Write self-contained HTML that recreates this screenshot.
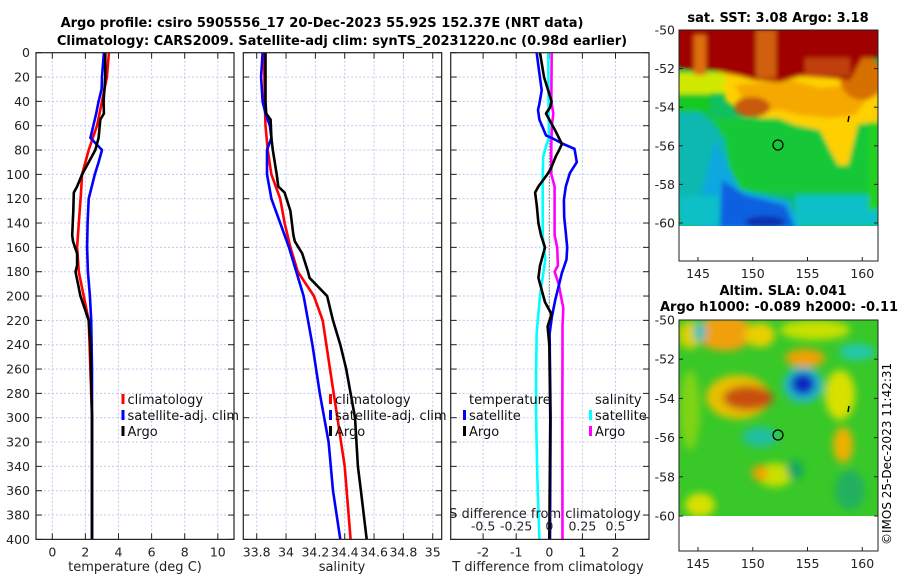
<!DOCTYPE html>
<html><head><meta charset="utf-8"><style>
html,body{margin:0;padding:0;background:#fff;}
svg{display:block;font-family:"DejaVu Sans","Liberation Sans",sans-serif;}
</style></head><body>
<svg id="chart" width="900" height="580" viewBox="0 0 900 580" xmlns="http://www.w3.org/2000/svg">
<defs>
<filter id="b1" x="-20%" y="-20%" width="140%" height="140%"><feGaussianBlur stdDeviation="2.5"/></filter>
<filter id="b2" x="-20%" y="-20%" width="140%" height="140%"><feGaussianBlur stdDeviation="4"/></filter>
<clipPath id="c1"><rect x="679" y="30" width="199" height="196"/></clipPath>
<clipPath id="c2"><rect x="679" y="320" width="199" height="196"/></clipPath>
</defs>
<text x="322" y="27" font-size="13" font-weight="bold" text-anchor="middle">Argo profile: csiro 5905556_17 20-Dec-2023 55.92S 152.37E (NRT data)</text>
<text x="342" y="45" font-size="13" font-weight="bold" text-anchor="middle">Climatology: CARS2009. Satellite-adj clim: synTS_20231220.nc (0.98d earlier)</text>
<g id="panels"></g>

<!-- SST map -->
<g>
<text x="778" y="22" font-size="13" font-weight="bold" text-anchor="middle">sat. SST: 3.08 Argo: 3.18</text>
<g clip-path="url(#c1)">
<rect x="679" y="30" width="199" height="196" fill="#10c060"/>
<g filter="url(#b1)">
<rect x="700" y="118" width="180" height="75" fill="#18c838"/>
<path d="M670 110 L700 112 L715 125 L725 140 L730 175 L745 195 L700 200 L670 200 Z" fill="#10b8b0"/>
<path d="M715 140 L725 160 L740 190 L790 200 L800 230 L700 230 L700 200 Z" fill="#10a8e0"/>
<path d="M722 180 L745 195 L785 205 L795 228 L720 228 Z" fill="#1060e0"/>
<ellipse cx="765" cy="222" rx="20" ry="6" fill="#0830b0"/>
<rect x="679" y="196" width="40" height="30" fill="#10c0c8"/>
<rect x="795" y="195" width="85" height="31" fill="#10c0c8"/>
<rect x="670" y="92" width="40" height="20" fill="#18c820"/>
<rect x="670" y="72" width="60" height="22" fill="#d0e800"/>
<path d="M725 70 L880 70 L880 122 L858 124 L848 165 L838 165 L830 150 L820 130 L795 125 L778 118 L760 118 L740 112 L725 100 Z" fill="#ffd000"/>
<path d="M735 85 L790 80 L820 88 L850 85 L870 95 L855 115 L830 118 L800 115 L780 110 L760 112 L745 105 Z" fill="#f5a800"/>
<ellipse cx="752" cy="107" rx="18" ry="10" fill="#c85a10"/>
<ellipse cx="862" cy="78" rx="22" ry="22" fill="#d87000"/>
<path d="M670 25 L885 25 L885 58 L862 58 L850 80 L830 78 L800 76 L780 82 L755 80 L740 76 L710 70 L690 70 L670 66 Z" fill="#a00000"/>
<rect x="694" y="35" width="12" height="40" fill="#e07010"/>
<rect x="756" y="30" width="20" height="48" fill="#d06010"/>
<rect x="805" y="58" width="45" height="18" fill="#c04008"/>
<rect x="868" y="122" width="12" height="88" fill="#20d020"/>
</g>
</g>
<circle cx="778" cy="145" r="5" fill="none" stroke="#000" stroke-width="1.2"/>
<line x1="849" y1="116" x2="848" y2="122" stroke="#000" stroke-width="1.5"/>
<rect x="679" y="30" width="199" height="231" fill="none" stroke="#222" stroke-width="1"/>
<g id="sstticks"></g>
</g>

<!-- SLA map -->
<g>
<text x="783" y="295" font-size="13" font-weight="bold" text-anchor="middle">Altim. SLA: 0.041</text>
<text x="660" y="311" font-size="13" font-weight="bold">Argo h1000: -0.089 h2000: -0.11</text>
<g clip-path="url(#c2)">
<rect x="679" y="320" width="199" height="196" fill="#38c828"/>
<g filter="url(#b2)">
<ellipse cx="725" cy="333" rx="28" ry="18" fill="#f0a010"/>
<ellipse cx="690" cy="335" rx="12" ry="14" fill="#d8d000"/>
<ellipse cx="700" cy="332" rx="6" ry="10" fill="#20c0c0"/>
<ellipse cx="760" cy="335" rx="15" ry="12" fill="#e8d000"/>
<ellipse cx="815" cy="330" rx="35" ry="10" fill="#c8e000"/>
<ellipse cx="805" cy="358" rx="20" ry="9" fill="#f0a000"/>
<ellipse cx="857" cy="352" rx="18" ry="8" fill="#20c8b0"/>
<ellipse cx="738" cy="397" rx="32" ry="22" fill="#e8c000"/>
<ellipse cx="748" cy="398" rx="25" ry="12" fill="#c85010"/>
<ellipse cx="803" cy="385" rx="20" ry="18" fill="#20b8c8"/>
<ellipse cx="803" cy="384" rx="12" ry="11" fill="#0828c0"/>
<ellipse cx="840" cy="395" rx="15" ry="25" fill="#d8e000"/>
<ellipse cx="760" cy="437" rx="18" ry="10" fill="#20c0a0"/>
<ellipse cx="843" cy="445" rx="10" ry="18" fill="#f0b000"/>
<ellipse cx="775" cy="475" rx="18" ry="12" fill="#c8e000"/>
<ellipse cx="760" cy="473" rx="8" ry="8" fill="#f0a000"/>
<ellipse cx="700" cy="505" rx="15" ry="12" fill="#d8e000"/>
<ellipse cx="850" cy="490" rx="15" ry="20" fill="#20b060"/>
<ellipse cx="795" cy="470" rx="8" ry="10" fill="#10a860"/>
<ellipse cx="690" cy="410" rx="10" ry="40" fill="#c8e000" opacity="0.5"/>
</g>
</g>
<circle cx="778" cy="435" r="5" fill="none" stroke="#000" stroke-width="1.2"/>
<line x1="849" y1="406" x2="848" y2="412" stroke="#000" stroke-width="1.5"/>
<rect x="679" y="320" width="199" height="231" fill="none" stroke="#222" stroke-width="1"/>
<g id="slaticks"></g>
</g>
<text transform="translate(891,545) rotate(-90)" font-size="12">©IMOS 25-Dec-2023 11:42:31</text>
</svg>
<script>
// ---- data: depths (m) and values ----
const depthTicks = [0,20,40,60,80,100,120,140,160,180,200,220,240,260,280,300,320,340,360,380,400];
const tempTicks = [0,2,4,6,8,10];
const salTicks = [33.8,34,34.2,34.4,34.6,34.8,35];
const salTickLabels = ["33.8","34","34.2","34.4","34.6","34.8","35"];
const dtTicks = [-2,-1,0,1,2];
const dsTicks = [-0.5,-0.25,0,0.25,0.5];
const dsTickLabels = ["-0.5","-0.25","0","0.25","0.5"];
const lonTicks = [145,150,155,160];
const latTicks = [-50,-52,-54,-56,-58,-60];

const tClimDepth = [0,20,40,60,80,100,120,140,160,180,200,220,260,300,400];
const tClimVal   = [3.42,3.3,3.0,2.7,2.2,1.8,1.71,1.6,1.5,1.6,1.9,2.2,2.3,2.4,2.4];
const tSatDepth = [0,20,30,40,50,70,80,90,100,120,140,160,180,200,220,260,400];
const tSatVal   = [3.12,3.0,2.98,2.8,2.65,2.3,3.0,2.8,2.57,2.2,2.13,2.1,2.15,2.27,2.35,2.4,2.4];
const tArgoDepth = [0,20,40,50,55,70,80,90,100,110,115,130,150,155,165,175,180,190,200,210,220,240,300,400];
const tArgoVal   = [3.2,3.2,3.1,3.12,2.9,2.8,2.6,2.2,1.8,1.5,1.3,1.27,1.2,1.25,1.5,1.5,1.4,1.55,1.7,1.95,2.2,2.3,2.4,2.4];

const sClimDepth = [0,40,60,80,100,120,140,160,180,200,220,260,300,340,400];
const sClimVal   = [33.85,33.855,33.86,33.875,33.9,33.96,33.99,34.03,34.08,34.19,34.25,34.3,34.35,34.4,34.44];
const sSatDepth = [0,20,40,50,60,70,80,100,120,140,160,180,200,240,280,320,360,400];
const sSatVal   = [33.84,33.83,33.84,33.86,33.89,33.9,33.87,33.87,33.9,33.96,34.02,34.07,34.12,34.18,34.23,34.29,34.32,34.37];
const sArgoDepth = [0,40,50,55,70,80,100,110,115,130,150,155,165,180,185,200,220,240,260,280,300,340,360,380,400];
const sArgoVal   = [33.86,33.86,33.865,33.895,33.9,33.91,33.936,33.947,33.99,34.03,34.05,34.06,34.11,34.15,34.16,34.28,34.32,34.37,34.41,34.44,34.47,34.49,34.51,34.53,34.55];

const dtSatDepth = [0,11,31,42,47,55,68,70,75,79,90,99,110,121,135,148,160,170,181,192,203,217,231,300,400];
const dtSatVal   = [-0.38,-0.33,-0.23,-0.3,-0.34,-0.3,-0.1,0.07,0.42,0.76,0.83,0.62,0.5,0.44,0.45,0.5,0.54,0.52,0.38,0.28,0.18,0.08,0.01,0.04,0.02];
const dtArgoDepth = [0,20,40,45,50,55,65,75,80,85,95,100,110,115,125,140,150,160,175,185,195,205,215,225,240,300,400];
const dtArgoVal   = [-0.28,-0.16,0.07,0.02,-0.1,0.0,0.2,0.38,0.3,0.2,0.05,-0.06,-0.33,-0.43,-0.38,-0.33,-0.25,-0.13,-0.28,-0.33,-0.23,-0.13,0.07,-0.05,0.0,0.03,0.0];
const dsSatDepth = [0,40,70,75,85,100,150,170,200,230,260,300,350,400];
const dsSatVal   = [-0.008,-0.005,-0.003,-0.02,-0.045,-0.05,-0.05,-0.03,-0.07,-0.095,-0.1,-0.1,-0.09,-0.075];
const dsArgoDepth = [0,40,50,60,75,100,110,130,150,160,175,180,190,210,225,250,300,400];
const dsArgoVal   = [0.018,0.015,0.03,0.02,0.015,0.015,0.04,0.04,0.04,0.06,0.065,0.04,0.07,0.106,0.1,0.1,0.098,0.1];

// ---- axes ----
const Y0=52.7, YS=1.2167;
const yD = d => Y0 + d*YS;
const xT = v => 52.3 + v*16.55;
const xS = v => 256.7 + (v-33.8)*146.7;
const xDT = v => 549.3 + v*33.1;
const xDS = v => 549.3 + v*132.4;
const mapX = lon => 698 + (lon-145)*10.95;
const mapY1 = lat => 30 + (-50-lat)*19.3;
const mapY2 = lat => 320 + (-50-lat)*19.6;

const NS='http://www.w3.org/2000/svg';
const root=document.getElementById('panels');
function mk(tag,attrs,parent){const e=document.createElementNS(NS,tag);for(const k in attrs)e.setAttribute(k,attrs[k]);(parent||root).appendChild(e);return e;}
function txt(s,attrs,parent){const e=mk('text',attrs,parent);e.textContent=s;return e;}

const panels=[{l:36,r:234,name:'temperature-panel'},{l:243.3,r:441.7,name:'salinity-panel'},{l:450.7,r:649,name:'difference-panel'}];
const gridX=[tempTicks.map(xT),salTicks.map(xS),dtTicks.map(xDT)];
panels.forEach((p,i)=>{
  const g=mk('g',{});
  
  
  p.g=g;
  depthTicks.forEach(d=>{ if(d>0&&d<400){ mk('line',{x1:p.l,x2:p.r,y1:yD(d),y2:yD(d),stroke:'#c4c8ec','stroke-width':1,'stroke-dasharray':'2,2'},g);} 
    mk('line',{x1:p.l,x2:p.l+6,y1:yD(d),y2:yD(d),stroke:'#222','stroke-width':1},g);
    mk('line',{x1:p.r-6,x2:p.r,y1:yD(d),y2:yD(d),stroke:'#222','stroke-width':1},g);});
  gridX[i].forEach(x=>{ mk('line',{x1:x,x2:x,y1:Y0,y2:yD(400),stroke:'#c4c8ec','stroke-width':1,'stroke-dasharray':'2,2'},g);
    mk('line',{x1:x,x2:x,y1:yD(400)-6,y2:yD(400),stroke:'#222','stroke-width':1},g);
    mk('line',{x1:x,x2:x,y1:Y0,y2:Y0+6,stroke:'#222','stroke-width':1},g);});
});
depthTicks.forEach(d=>{const t=txt(String(d),{x:30,y:yD(d)+4.5,'font-size':12.5,'text-anchor':'end',fill:'#222'});
  
  });
const XL=yD(400)+17;
tempTicks.forEach(v=>{const t=txt(String(v),{x:xT(v),y:XL,'font-size':12.5,'text-anchor':'middle',fill:'#222'});
  
  });
salTicks.forEach((v,i)=>{const t=txt(salTickLabels[i],{x:xS(v),y:XL,'font-size':12.5,'text-anchor':'middle',fill:'#222'});
  
  });
dtTicks.forEach(v=>{const t=txt(String(v),{x:xDT(v),y:XL,'font-size':12.5,'text-anchor':'middle',fill:'#222'});
  
  });
dsTicks.forEach((v,i)=>{const t=txt(dsTickLabels[i],{x:xDS(v),y:yD(400)-9,'font-size':12.5,'text-anchor':'middle',fill:'#222'});
  
  });
let at;
at=txt('temperature (deg C)',{x:135,y:571,'font-size':13,'text-anchor':'middle',fill:'#222'});


at=txt('salinity',{x:342,y:571,'font-size':13,'text-anchor':'middle',fill:'#222'});


at=txt('T difference from climatology',{x:548,y:571,'font-size':13,'text-anchor':'middle',fill:'#222'});


at=txt('S difference from climatology',{x:545,y:518,'font-size':13,'text-anchor':'middle',fill:'#222'});



mk('line',{x1:xDT(0),x2:xDT(0),y1:yD(40),y2:yD(230),stroke:'#333','stroke-width':1,'stroke-dasharray':'1,2'},panels[2].g);

function series(depths,vals,xf,color,name,g){
  const pts=depths.map((d,i)=>xf(vals[i]).toFixed(1)+','+yD(d).toFixed(1)).join(' ');
  const pl=mk('polyline',{points:pts,fill:'none',stroke:color,'stroke-width':2.6,'stroke-linejoin':'round'},g);
  
  
}
series(tClimDepth,tClimVal,xT,'#ff0000','temp-climatology-line',panels[0].g);
series(tSatDepth,tSatVal,xT,'#0000ff','temp-satellite-line',panels[0].g);
series(tArgoDepth,tArgoVal,xT,'#000000','temp-argo-line',panels[0].g);
series(sClimDepth,sClimVal,xS,'#ff0000','sal-climatology-line',panels[1].g);
series(sSatDepth,sSatVal,xS,'#0000ff','sal-satellite-line',panels[1].g);
series(sArgoDepth,sArgoVal,xS,'#000000','sal-argo-line',panels[1].g);
series(dsSatDepth,dsSatVal,xDS,'#00ffff','s-diff-satellite-line',panels[2].g);
series(dsArgoDepth,dsArgoVal,xDS,'#ff00ff','s-diff-argo-line',panels[2].g);
series(dtSatDepth,dtSatVal,xDT,'#0000ff','t-diff-satellite-line',panels[2].g);
series(dtArgoDepth,dtArgoVal,xDT,'#000000','t-diff-argo-line',panels[2].g);

panels.forEach(p=>mk('rect',{x:p.l,y:Y0,width:p.r-p.l,height:yD(400)-Y0,fill:'none',stroke:'#222','stroke-width':1.2},p.g));

function legend(x,y,items,nm){
  items.forEach((it,i)=>{
    const g=mk('g',{});
    
    
    if(it[1]) mk('rect',{x:x,y:y+i*16-6,width:3,height:10,fill:it[1]},g);
    txt(it[0],{x:x+6,y:y+i*16+4,'font-size':13,fill:'#111'},g);
  });
}
legend(121.5,400,[['climatology','#ff0000'],['satellite-adj. clim','#0000ff'],['Argo','#000']],'temp-legend');
legend(329,400,[['climatology','#ff0000'],['satellite-adj. clim','#0000ff'],['Argo','#000']],'sal-legend');
legend(463,400,[['temperature',null],['satellite','#0000ff'],['Argo','#000']],'tdiff-legend');
legend(589,400,[['salinity',null],['satellite','#00ffff'],['Argo','#ff00ff']],'sdiff-legend');

function mapTicks(gid,yf,bottom){
  const g=document.getElementById(gid);
  latTicks.forEach(l=>{const y=yf(l);
    mk('line',{x1:679,x2:683,y1:y,y2:y,stroke:'#222'},g);
    mk('line',{x1:874,x2:878,y1:y,y2:y,stroke:'#222'},g);
    const t=txt(String(l),{x:675,y:y+4.5,'font-size':12.5,'text-anchor':'end',fill:'#222'},g);
    
    });
  lonTicks.forEach(l=>{const x=mapX(l);
    mk('line',{x1:x,x2:x,y1:bottom-4,y2:bottom,stroke:'#222'},g);
    const t=txt(String(l),{x:x,y:bottom+17,'font-size':12.5,'text-anchor':'middle',fill:'#222'},g);
    
    });
}
mapTicks('sstticks',mapY1,261);
mapTicks('slaticks',mapY2,551);
</script>
</body></html>
